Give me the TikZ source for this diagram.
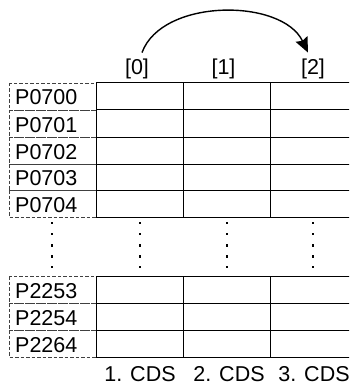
\documentclass[tikz,border=0pt]{standalone}
\usepackage{fontspec}
\setmainfont{Liberation Sans}
\usetikzlibrary{arrows.meta}
\begin{document}
\begin{tikzpicture}[x=1pt,y=-1pt,
  txt/.style={font=\fontsize{21.5}{25}\selectfont, inner sep=0pt},
  lbl/.style={txt, anchor=base west},
  labcell/.style={draw=black!75, dashed, dash pattern=on 3.5pt off 2pt, line width=0.8pt},
  gridline/.style={draw=black, line width=1pt},
  dotm/.style={fill=black, minimum size=2.2pt, inner sep=0pt, shape=rectangle}]
\useasboundingbox (0,0) rectangle (349,385);
\begin{scope}
\clip (0,0) rectangle (349,385);
\foreach \t/\b in {83/110,110/137,137/164,164/190,190/217}{
  \draw[labcell] (9,\t) rectangle (96,\b);
}
\foreach \t/\b in {276/303,303/330,330/357}{
  \draw[labcell] (9,\t) rectangle (96,\b);
}
\foreach \y in {83,110,137,164,190,217}{ \draw[gridline] (96,\y) -- (358,\y); }
\foreach \x in {96,183,270}{ \draw[gridline] (\x,83) -- (\x,217); }
\foreach \y in {276,303,330,357}{ \draw[gridline] (96,\y) -- (358,\y); }
\foreach \x in {96,183,270}{ \draw[gridline] (\x,276) -- (\x,357); }
\end{scope}
% row labels
\node[lbl] (r1) at (15,105) {P0700};
\node[lbl] (r2) at (15,132) {P0701};
\node[lbl] (r3) at (15,159) {P0702};
\node[lbl] (r4) at (15,185.5) {P0703};
\node[lbl] (r5) at (15,212) {P0704};
\node[lbl] (r6) at (15,298) {P2253};
\node[lbl] (r7) at (15,325) {P2254};
\node[lbl] (r8) at (15,352) {P2264};
% vertical dots
\foreach \x in {52,140,227,313}{
  \foreach \y in {223,234,245.5,256.5,267}{
    \node[dotm] at (\x,\y) {};
  }
}
% headers
\node[txt] (h0) at (137,68.8) {[0]};
\node[txt] (h1) at (223.5,68.8) {[1]};
\node[txt] (h2) at (313,68.8) {[2]};
% footer
\node[txt, anchor=base] (c1) at (140,381) {1. CDS};
\node[txt, anchor=base] (c2) at (229,381) {2. CDS};
\node[txt, anchor=base] (c3) at (314,381) {3. CDS};
% arrow
\draw[line width=1.4pt, -{Stealth[length=15pt,width=13pt,inset=2pt]}]
  ([xshift=5pt,yshift=6pt]h0.north) .. controls (162,-2) and (282,-2) .. ([xshift=-5pt,yshift=6pt]h2.north);
\end{tikzpicture}
\end{document}
